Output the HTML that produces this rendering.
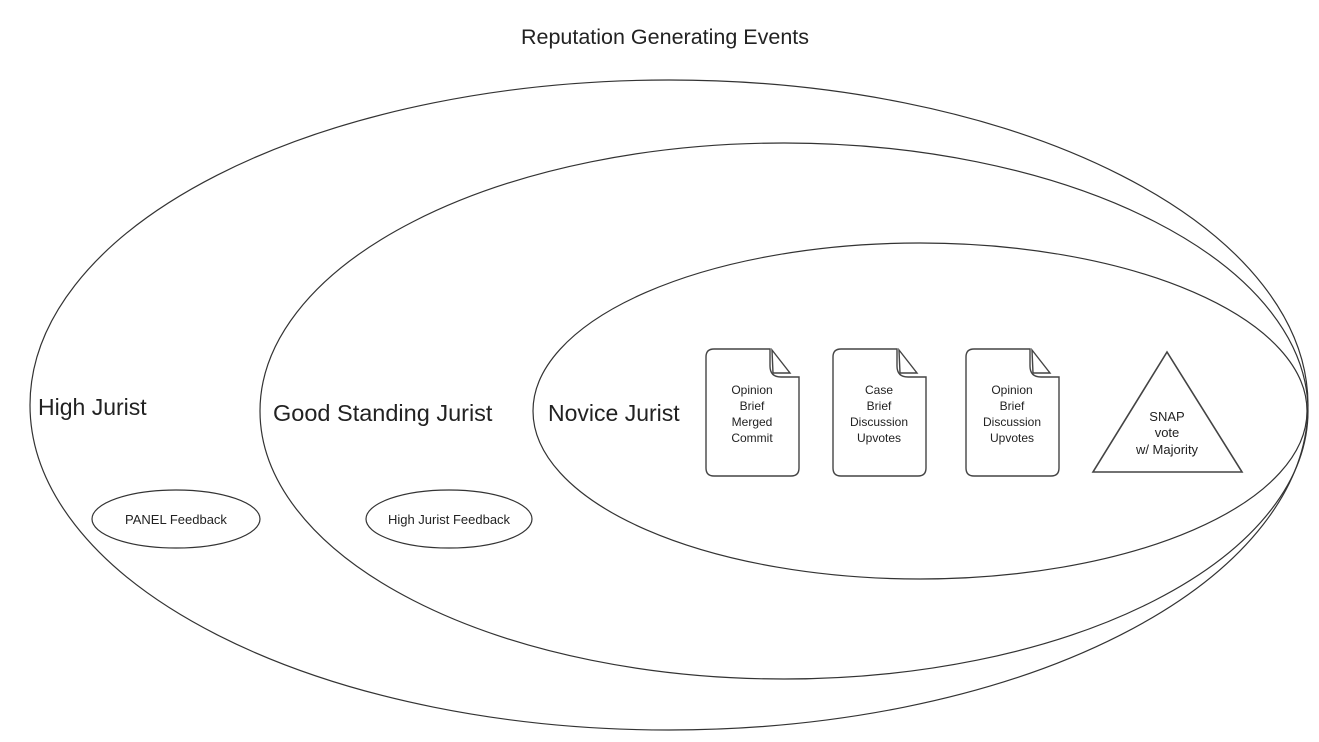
<!DOCTYPE html>
<html><head><meta charset="utf-8"><style>
html,body{margin:0;padding:0;background:#fff;}
svg{display:block;font-family:"Liberation Sans",sans-serif;}
</style></head><body>
<svg width="1319" height="742" viewBox="0 0 1319 742" xmlns="http://www.w3.org/2000/svg">
<rect width="1319" height="742" fill="#fff"/>
<text x="665" y="44" font-size="21.5" text-anchor="middle" fill="#222">Reputation Generating Events</text>
<g fill="none" stroke="#333" stroke-width="1.2">
<ellipse cx="669" cy="405" rx="639" ry="325"/>
<ellipse cx="784" cy="411" rx="524" ry="268"/>
<ellipse cx="920" cy="411" rx="387" ry="168"/>
<ellipse cx="176" cy="519" rx="84" ry="29"/>
<ellipse cx="449" cy="519" rx="83" ry="29"/>
</g>
<g fill="#222">
<text x="38" y="415" font-size="23">High Jurist</text>
<text x="273" y="421" font-size="23.5">Good Standing Jurist</text>
<text x="548" y="421" font-size="23">Novice Jurist</text>
<text x="176" y="524" font-size="13" text-anchor="middle">PANEL Feedback</text>
<text x="449" y="524" font-size="13" text-anchor="middle">High Jurist Feedback</text>
</g>
<defs>
<g id="doc" fill="none" stroke="#444" stroke-width="1.4">
<path d="M8,0 H64 V17 Q64,28 75,28 H93 V119 Q93,127 85,127 H8 Q0,127 0,119 V8 Q0,0 8,0 Z" fill="#fff"/>
<path d="M66,1 L84,24 L67,24 Z"/>
</g>
</defs>
<use href="#doc" x="706" y="349"/>
<use href="#doc" x="833" y="349"/>
<use href="#doc" x="966" y="349"/>
<g font-size="12" text-anchor="middle" fill="#222">
<text x="752" y="394">Opinion</text><text x="752" y="410">Brief</text><text x="752" y="426">Merged</text><text x="752" y="442">Commit</text>
<text x="879" y="394">Case</text><text x="879" y="410">Brief</text><text x="879" y="426">Discussion</text><text x="879" y="442">Upvotes</text>
<text x="1012" y="394">Opinion</text><text x="1012" y="410">Brief</text><text x="1012" y="426">Discussion</text><text x="1012" y="442">Upvotes</text>
</g>
<polygon points="1167,352 1093,472 1242,472" fill="#fff" stroke="#444" stroke-width="1.6"/>
<g font-size="13" text-anchor="middle" fill="#222">
<text x="1167" y="421">SNAP</text><text x="1167" y="437">vote</text><text x="1167" y="454">w/ Majority</text>
</g>
</svg>
</body></html>
